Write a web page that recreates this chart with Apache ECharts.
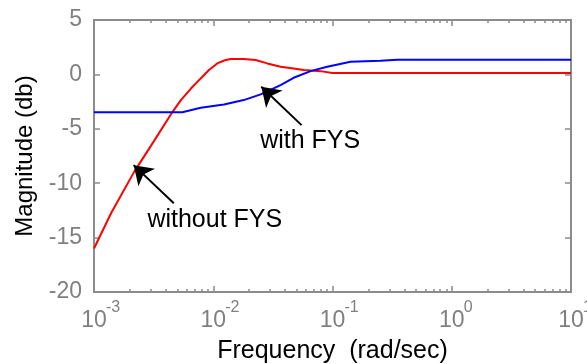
<!DOCTYPE html>
<html>
<head>
<meta charset="utf-8">
<script src="https://cdn.jsdelivr.net/npm/echarts@6/dist/echarts.min.js"></script>
<style>
  html, body { margin: 0; padding: 0; background: #fff; }
  #chart { width: 587px; height: 364px; }
</style>
</head>
<body>
<div id="chart"></div>
<script>
// 周波数応答 (rad/sec, dB)
const freqWithout = [0.001, 0.00139, 0.00217, 0.003, 0.00456, 0.00535, 0.0065, 0.00785, 0.0092, 0.0108, 0.0125, 0.014, 0.018, 0.0227, 0.0284, 0.0367, 0.0472, 0.0572, 0.0794, 0.0994, 10];
const magWithout = [-16.0, -12.76, -8.96, -6.57, -3.44, -2.36, -1.3, -0.37, 0.4, 1.01, 1.3, 1.41, 1.41, 1.32, 1.01, 0.70, 0.55, 0.40, 0.30, 0.12, 0.12];

const freqWith = [0.001, 0.0055, 0.00785, 0.0123, 0.018, 0.025, 0.0367, 0.0472, 0.0655, 0.0903, 0.1416, 0.252, 0.35, 10];
const magWith = [-3.47, -3.47, -3.07, -2.76, -2.36, -1.84, -0.98, -0.31, 0.30, 0.70, 1.16, 1.25, 1.34, 1.34];

// 目盛り
const decadeTicks = [0.001, 0.01, 0.1, 1, 10];
const decadeExponents = ['-3', '-2', '-1', '0', '1'];
const minorTicks = [];
decadeTicks.slice(0, -1).forEach((d) => {
  for (let k = 2; k < 10; k++) minorTicks.push(+(d * k).toPrecision(3));
});
const yTicks = [-20, -15, -10, -5, 0, 5];

// 注記 (データ座標)
const annotations = [
  { name: 'without FYS', text: [0.0103, -13.4], from: [0.00467, -11.84], to: [0.00215, -8.34] },
  { name: 'with FYS', text: [0.065, -6.1], from: [0.055, -4.66], to: [0.0253, -1.14] },
];

const zip = (xs, ys) => xs.map((x, i) => [x, ys[i]]);
const expOf = (v) => decadeExponents[Math.round(Math.log10(v)) + 3];

const gray = '#8c8c8c';
const labelGray = '#808080';
const font = 'Liberation Sans, Arial';

const baseX = {
  type: 'log',
  logBase: 10,
  min: 0.001,
  max: 10,
  splitLine: { show: false },
  axisLine: { show: true, onZero: false, lineStyle: { color: gray, width: 2 } },
  axisLabel: { show: false },
};

const myChart = echarts.init(document.getElementById('chart'));

myChart.setOption({
  animation: false,
  grid: {
    left: 94,
    right: 16,
    top: 20,
    bottom: 72,
    containLabel: false,
    outerBoundsMode: 'none',
    // 枠線 (右側も含めて箱にする)
    show: true,
    borderColor: gray,
    borderWidth: 2,
    backgroundColor: 'transparent',
  },
  xAxis: [
    {
      // 下 主目盛り + "10"
      ...baseX,
      position: 'bottom',
      name: 'Frequency  (rad/sec)',
      nameLocation: 'middle',
      nameGap: 47,
      nameTextStyle: { fontFamily: font, fontSize: 25, color: '#000' },
      axisTick: { show: true, inside: true, length: 6, customValues: decadeTicks, lineStyle: { color: gray, width: 1.5 } },
      axisLabel: {
        show: true,
        margin: 17,
        customValues: decadeTicks,
        formatter: () => '10',
        fontFamily: font,
        fontSize: 23,
        color: labelGray,
      },
    },
    {
      // 下 補助目盛り + 指数
      ...baseX,
      position: 'bottom',
      axisTick: { show: true, inside: true, length: 3, customValues: minorTicks, lineStyle: { color: gray, width: 1.5 } },
      axisLabel: {
        show: true,
        margin: 8,
        customValues: decadeTicks,
        formatter: expOf,
        align: 'left',
        padding: [0, 0, 0, 12],
        fontFamily: font,
        fontSize: 16,
        color: labelGray,
      },
    },
    {
      // 上 主目盛り
      ...baseX,
      position: 'top',
      axisTick: { show: true, inside: true, length: 6, customValues: decadeTicks, lineStyle: { color: gray, width: 1.5 } },
    },
    {
      // 上 補助目盛り
      ...baseX,
      position: 'top',
      axisTick: { show: true, inside: true, length: 3, customValues: minorTicks, lineStyle: { color: gray, width: 1.5 } },
    },
  ],
  yAxis: [
    {
      type: 'value',
      position: 'left',
      min: -20,
      max: 5,
      interval: 5,
      name: 'Magnitude (db)',
      nameLocation: 'middle',
      nameGap: 56,
      nameRotate: 90,
      nameTextStyle: { fontFamily: font, fontSize: 24, color: '#000' },
      splitLine: { show: false },
      axisLine: { show: true, onZero: false, lineStyle: { color: gray, width: 2 } },
      axisTick: { show: true, inside: true, length: 6, customValues: yTicks, lineStyle: { color: gray, width: 1.5 } },
      axisLabel: {
        show: true,
        margin: 12,
        customValues: yTicks,
        fontFamily: font,
        fontSize: 23,
        color: labelGray,
      },
    },
    {
      type: 'value',
      position: 'right',
      min: -20,
      max: 5,
      interval: 5,
      splitLine: { show: false },
      axisLine: { show: true, onZero: false, lineStyle: { color: gray, width: 2 } },
      axisTick: { show: true, inside: true, length: 6, customValues: yTicks, lineStyle: { color: gray, width: 1.5 } },
      axisLabel: { show: false },
    },
  ],
  series: [
    {
      name: 'without FYS',
      type: 'line',
      data: zip(freqWithout, magWithout),
      showSymbol: false,
      lineStyle: { color: '#ff0000', width: 2 },
      itemStyle: { color: '#ff0000' },
      z: 3,
    },
    {
      name: 'with FYS',
      type: 'line',
      data: zip(freqWith, magWith),
      showSymbol: false,
      lineStyle: { color: '#0000ff', width: 2 },
      itemStyle: { color: '#0000ff' },
      z: 3,
    },
    {
      // 注記テキストと矢印
      type: 'scatter',
      symbolSize: 0,
      silent: true,
      itemStyle: { opacity: 1, color: '#000' },
      data: annotations.map((a) => ({ name: a.name, value: a.text })),
      label: {
        show: true,
        position: 'inside',
        formatter: '{b}',
        fontFamily: font,
        fontSize: 25,
        color: '#000',
        opacity: 1,
      },
      markLine: {
        silent: true,
        symbol: ['none', 'arrow'],
        symbolSize: 18,
        label: { show: false },
        lineStyle: { color: '#000', width: 2, type: 'solid', opacity: 1 },
        data: annotations.map((a) => [{ coord: a.from }, { coord: a.to }]),
      },
    },
  ],
});
</script>
</body>
</html>
